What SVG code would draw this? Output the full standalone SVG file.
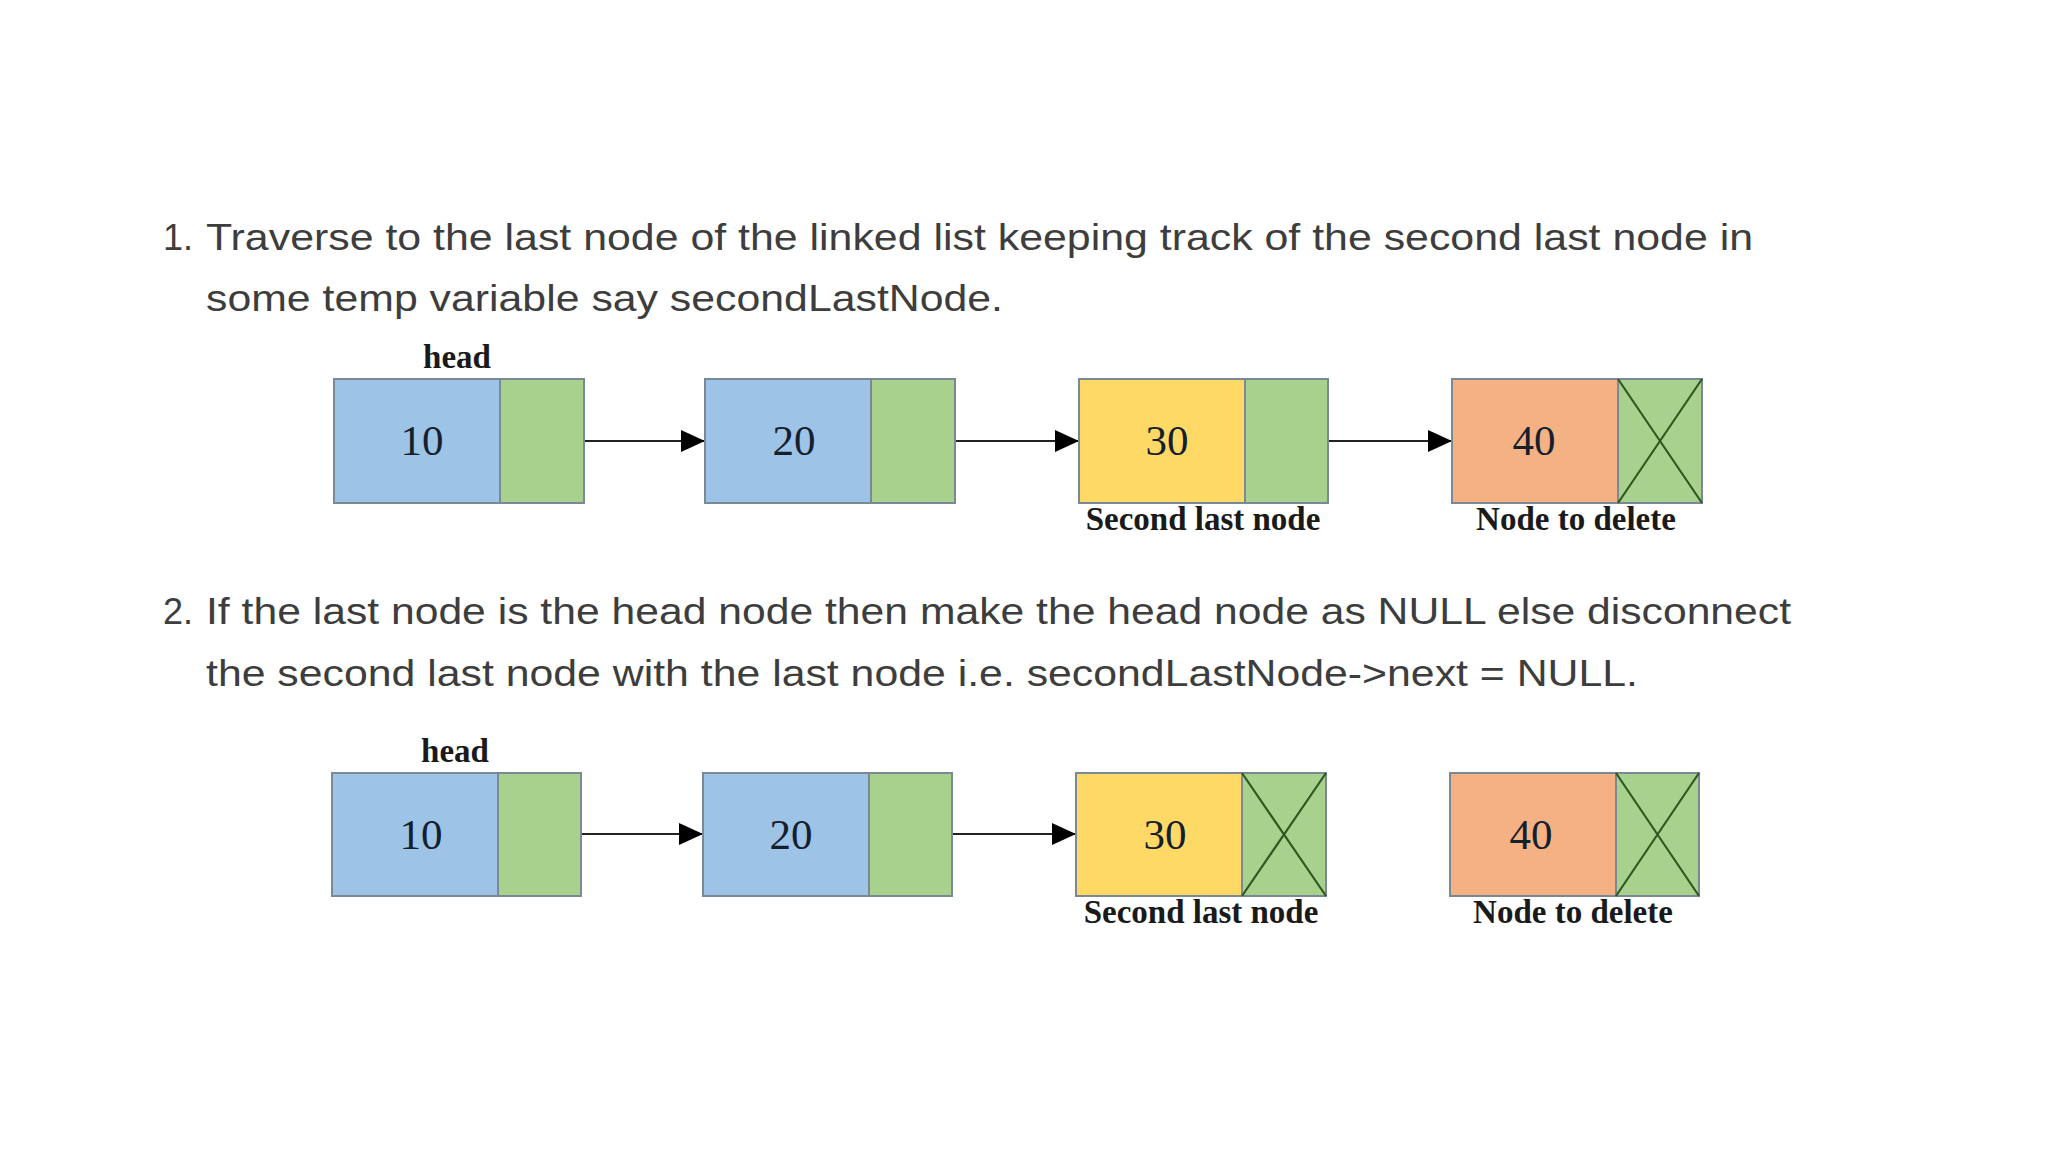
<svg xmlns="http://www.w3.org/2000/svg" width="2048" height="1152" viewBox="0 0 2048 1152">
<defs>
<style>
.txt{font-family:"Liberation Sans",Arial,sans-serif;font-size:36px;fill:#3d3d3d}
.num{font-family:"Liberation Serif","Times New Roman",serif;font-size:43px;fill:#14202e;text-anchor:middle}
.lbl{font-family:"Liberation Serif","Times New Roman",serif;font-size:33px;font-weight:bold;fill:#1a1a1a;text-anchor:middle}
.blue{fill:#9dc3e6;stroke:#7b8896;stroke-width:2}
.green{fill:#a9d18e;stroke:#7b8896;stroke-width:2}
.yellow{fill:#ffd966;stroke:#7b8896;stroke-width:2}
.orange{fill:#f4b183;stroke:#7b8896;stroke-width:2}
.x{stroke:#2f5a1f;stroke-width:2.2;fill:none}
.conn{stroke:#222;stroke-width:2.2;fill:none}
</style>
<marker id="arr" markerUnits="userSpaceOnUse" viewBox="0 0 24 24" markerWidth="24" markerHeight="24" refX="24" refY="12" orient="auto">
<path d="M0,1 L24,12 L0,23 z" fill="#000"/>
</marker>
</defs>
<rect width="2048" height="1152" fill="#fff"/>

<g id="text">
<text class="txt" x="163" y="250">1.</text>
<text class="txt" x="206" y="250" textLength="1547" lengthAdjust="spacingAndGlyphs">Traverse to the last node of the linked list keeping track of the second last node in</text>
<text class="txt" x="206" y="311" textLength="797" lengthAdjust="spacingAndGlyphs">some temp variable say secondLastNode.</text>
<text class="txt" x="163" y="624">2.</text>
<text class="txt" x="206" y="624" textLength="1585" lengthAdjust="spacingAndGlyphs">If the last node is the head node then make the head node as NULL else disconnect</text>
<text class="txt" x="206" y="686" textLength="1432" lengthAdjust="spacingAndGlyphs">the second last node with the last node i.e. secondLastNode-&gt;next = NULL.</text>
</g>

<g id="connectors">
<line class="conn" x1="584" y1="441" x2="705" y2="441" marker-end="url(#arr)"/>
<line class="conn" x1="955" y1="441" x2="1079" y2="441" marker-end="url(#arr)"/>
<line class="conn" x1="1328" y1="441" x2="1452" y2="441" marker-end="url(#arr)"/>
<line class="conn" x1="581" y1="834" x2="703" y2="834" marker-end="url(#arr)"/>
<line class="conn" x1="952" y1="834" x2="1076" y2="834" marker-end="url(#arr)"/>
</g>

<!-- Row 1 -->
<g id="r1n1">
<rect class="blue" x="334" y="379" width="166" height="124"/>
<rect class="green" x="500" y="379" width="84" height="124"/>
<text class="num" x="422" y="455">10</text>
<text class="lbl" x="457" y="368">head</text>
</g>
<g id="r1n2">
<rect class="blue" x="705" y="379" width="166" height="124"/>
<rect class="green" x="871" y="379" width="84" height="124"/>
<text class="num" x="794" y="455">20</text>
</g>
<g id="r1n3">
<rect class="yellow" x="1079" y="379" width="166" height="124"/>
<rect class="green" x="1245" y="379" width="83" height="124"/>
<text class="num" x="1167" y="455">30</text>
<text class="lbl" x="1203" y="530">Second last node</text>
</g>
<g id="r1n4">
<rect class="orange" x="1452" y="379" width="166" height="124"/>
<rect class="green" x="1618" y="379" width="84" height="124"/>
<path class="x" d="M1618,379 L1702,503 M1702,379 L1618,503"/>
<text class="num" x="1534" y="455">40</text>
<text class="lbl" x="1576" y="530">Node to delete</text>
</g>

<!-- Row 2 -->
<g id="r2n1">
<rect class="blue" x="332" y="773" width="166" height="123"/>
<rect class="green" x="498" y="773" width="83" height="123"/>
<text class="num" x="421" y="849">10</text>
<text class="lbl" x="455" y="762">head</text>
</g>
<g id="r2n2">
<rect class="blue" x="703" y="773" width="166" height="123"/>
<rect class="green" x="869" y="773" width="83" height="123"/>
<text class="num" x="791" y="849">20</text>
</g>
<g id="r2n3">
<rect class="yellow" x="1076" y="773" width="166" height="123"/>
<rect class="green" x="1242" y="773" width="84" height="123"/>
<path class="x" d="M1242,773 L1326,896 M1326,773 L1242,896"/>
<text class="num" x="1165" y="849">30</text>
<text class="lbl" x="1201" y="923">Second last node</text>
</g>
<g id="r2n4">
<rect class="orange" x="1450" y="773" width="166" height="123"/>
<rect class="green" x="1616" y="773" width="83" height="123"/>
<path class="x" d="M1616,773 L1699,896 M1699,773 L1616,896"/>
<text class="num" x="1531" y="849">40</text>
<text class="lbl" x="1573" y="923">Node to delete</text>
</g>
</svg>
